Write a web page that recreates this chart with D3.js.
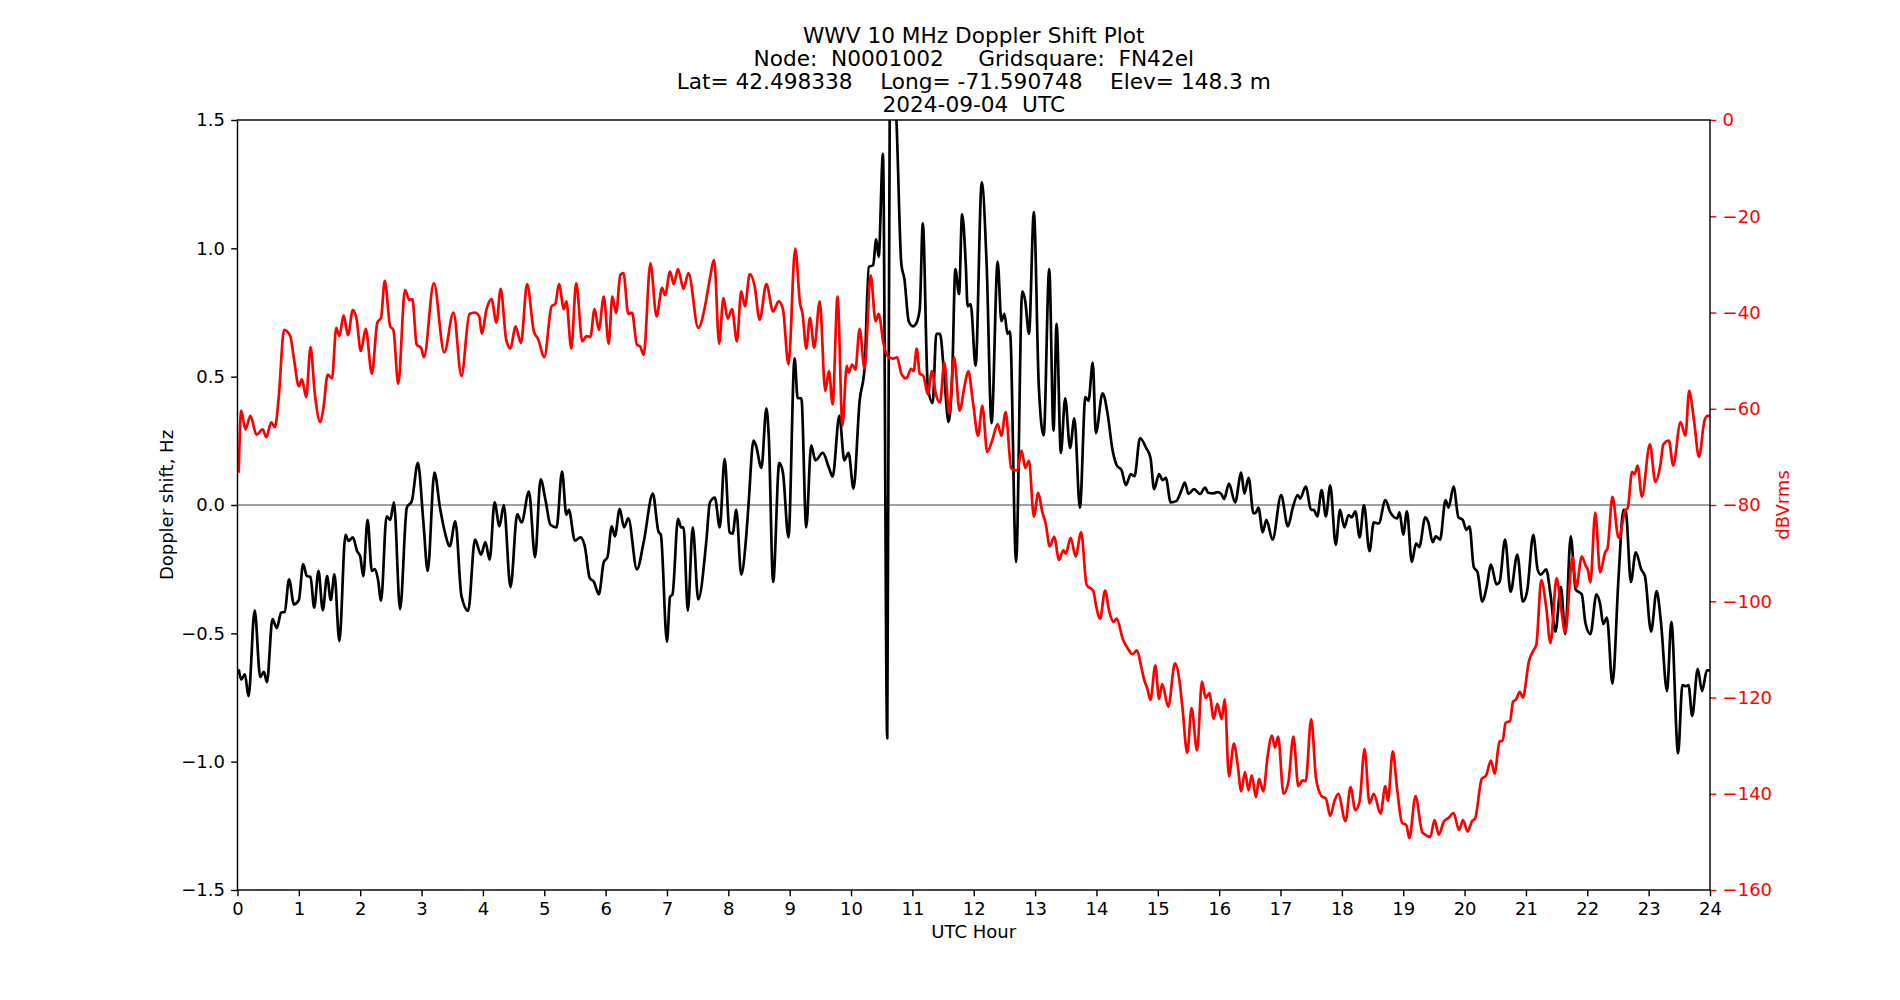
<!DOCTYPE html>
<html><head><meta charset="utf-8">
<script src="https://cdn.jsdelivr.net/npm/d3@7"></script>
<style>
body{margin:0;background:#fff}
text{font-family:"DejaVu Sans",sans-serif}
</style>
</head><body>
<svg id="chart" width="1900" height="1000"></svg>
<script>
// ---------------- data ----------------
const titleLines = [
  "WWV 10 MHz Doppler Shift Plot",
  "Node:  N0001002     Gridsquare:  FN42el",
  "Lat= 42.498338    Long= -71.590748    Elev= 148.3 m",
  "2024-09-04  UTC"
];
const xLabel = "UTC Hour";
const leftLabel = "Doppler shift, Hz";
const rightLabel = "dBVrms";
const hourTicks = d3.range(0, 25);
const dopplerTicks = [-1.5, -1.0, -0.5, 0.0, 0.5, 1.0, 1.5];
const powerTicks = [0, -20, -40, -60, -80, -100, -120, -140, -160];

const dopplerHour = [0.02,0.06,0.12,0.18,0.28,0.37,0.43,0.48,0.57,0.64,0.71,0.77,0.84,0.92,1.00,1.07,1.13,1.19,1.25,1.32,1.39,1.46,1.52,1.58,1.66,1.76,1.81,1.88,1.95,
2.00,2.05,2.12,2.19,2.24,2.29,2.34,2.43,2.49,2.55,2.65,2.76,2.84,2.94,3.03,3.10,3.21,3.30,3.38,3.46,3.55,3.65,3.76,3.87,3.97,
4.04,4.11,4.19,4.27,4.34,4.45,4.56,4.63,4.75,4.85,4.94,5.02,5.10,5.20,5.29,5.36,5.40,5.50,5.59,5.66,5.74,5.81,5.89,5.97,
6.03,6.10,6.15,6.23,6.30,6.37,6.51,6.62,6.77,6.86,6.90,7.00,7.05,7.09,7.18,7.23,7.27,7.34,7.42,7.51,7.64,7.70,7.78,7.86,7.94,
8.02,8.07,8.13,8.21,8.29,8.33,8.41,8.45,8.54,8.62,8.66,8.73,8.83,8.89,8.98,9.08,9.13,9.19,9.27,9.35,9.42,9.54,9.64,9.70,9.81,9.89,9.96,
10.04,10.14,10.22,10.29,10.36,10.41,10.45,10.52,10.59,10.63,10.68,10.74,10.82,10.87,10.94,11.01,11.06,11.12,11.17,11.25,11.33,11.39,11.45,11.51,11.59,11.65,11.70,11.76,11.81,11.87,11.90,11.95,
12.03,12.13,12.21,12.29,12.39,12.45,12.50,12.55,12.59,12.69,12.79,12.84,12.90,12.98,13.06,13.14,13.23,13.30,13.35,13.42,13.49,13.57,13.64,13.73,13.82,13.87,13.94,
13.99,14.10,14.18,14.26,14.33,14.41,14.48,14.56,14.62,14.71,14.81,14.88,14.94,15.02,15.08,15.13,15.21,15.30,15.38,15.44,15.50,15.59,15.69,15.77,15.82,15.91,15.97,
16.03,16.08,16.16,16.26,16.36,16.41,16.48,16.56,16.60,16.64,16.71,16.77,16.87,17.01,17.12,17.20,17.28,17.32,17.41,17.50,17.54,17.60,17.67,17.74,17.81,17.90,17.97,
18.04,18.11,18.16,18.22,18.29,18.36,18.45,18.52,18.60,18.71,18.79,18.90,18.94,19.00,19.06,19.14,19.21,19.26,19.36,19.41,19.48,19.53,19.60,19.69,19.74,19.82,19.90,19.97,
20.03,20.08,20.15,20.21,20.29,20.36,20.43,20.52,20.57,20.66,20.75,20.86,20.95,21.02,21.12,21.19,21.24,21.33,21.40,21.48,21.57,21.64,21.73,21.81,21.91,21.97,
22.05,22.15,22.21,22.26,22.32,22.41,22.51,22.59,22.63,22.71,22.79,22.88,22.94,23.04,23.13,23.20,23.30,23.37,23.48,23.55,23.61,23.65,23.71,23.80,23.87,23.95,24.00];

const dopplerShift = [-0.64,-0.68,-0.66,-0.745,-0.41,-0.67,-0.65,-0.69,-0.445,-0.48,-0.42,-0.416,-0.29,-0.387,-0.37,-0.23,-0.277,-0.28,-0.40,-0.257,-0.41,-0.277,-0.37,-0.27,-0.53,-0.116,-0.14,-0.126,-0.18,
-0.20,-0.277,-0.058,-0.257,-0.25,-0.29,-0.373,-0.044,-0.058,0.01,-0.406,-0.01,0.015,0.164,-0.068,-0.257,0.126,-0.01,-0.106,-0.16,-0.064,-0.354,-0.412,-0.135,-0.193,
-0.145,-0.213,0.01,-0.083,0.0,-0.32,-0.035,-0.068,0.052,-0.203,0.1,0.019,-0.077,-0.087,0.13,-0.039,-0.019,-0.139,-0.126,-0.16,-0.284,-0.3,-0.348,-0.222,
-0.203,-0.083,-0.122,-0.015,-0.087,-0.052,-0.251,-0.145,0.044,-0.103,-0.116,-0.532,-0.358,-0.348,-0.054,-0.087,-0.087,-0.412,-0.087,-0.368,-0.145,0.01,0.029,-0.087,0.18,
-0.106,-0.112,-0.019,-0.271,-0.126,0.004,0.251,0.232,0.145,0.377,0.261,-0.3,0.164,0.126,-0.126,0.571,0.416,0.416,-0.087,0.232,0.174,0.203,0.145,0.11,0.348,0.174,0.203,
0.064,0.406,0.532,0.928,0.934,1.035,0.967,1.368,-0.909,1.5,1.75,1.5,0.938,0.88,0.716,0.696,0.706,0.764,1.097,0.464,0.397,0.667,0.667,0.532,0.323,0.513,0.919,0.822,1.132,0.938,0.774,0.783,
0.542,1.257,0.938,0.319,0.948,0.716,0.745,0.667,0.677,-0.222,0.832,0.793,0.667,1.141,0.464,0.271,0.919,0.29,0.706,0.203,0.416,0.222,0.338,-0.01,0.42,0.406,0.555,
0.28,0.435,0.358,0.217,0.155,0.135,0.077,0.12,0.112,0.261,0.222,0.184,0.062,0.12,0.097,0.106,0.01,0.015,0.054,0.087,0.043,0.062,0.043,0.068,0.048,0.045,0.05,
0.044,0.023,0.083,0.01,0.126,0.044,0.106,-0.033,-0.029,-0.01,-0.106,-0.058,-0.135,0.039,-0.083,-0.01,0.039,0.025,0.072,-0.019,-0.019,-0.044,0.058,-0.044,0.077,-0.155,-0.019,
-0.087,-0.039,-0.048,-0.025,-0.126,0.0,-0.18,-0.068,-0.072,0.019,-0.029,-0.052,-0.029,-0.116,-0.025,-0.222,-0.149,-0.164,-0.048,-0.068,-0.145,-0.122,-0.135,0.019,-0.01,0.072,-0.048,-0.058,
-0.097,-0.083,-0.242,-0.261,-0.377,-0.319,-0.232,-0.309,-0.3,-0.135,-0.338,-0.193,-0.377,-0.335,-0.116,-0.251,-0.271,-0.251,-0.348,-0.493,-0.319,-0.503,-0.122,-0.329,-0.348,-0.46,
-0.503,-0.348,-0.387,-0.464,-0.439,-0.696,-0.28,-0.019,-0.029,-0.3,-0.184,-0.251,-0.277,-0.493,-0.335,-0.455,-0.725,-0.455,-0.967,-0.702,-0.706,-0.702,-0.822,-0.638,-0.725,-0.644,-0.644];

const powerHour = [0.02,0.06,0.13,0.21,0.31,0.41,0.47,0.55,0.61,0.67,0.76,0.86,0.92,1.00,1.05,1.12,1.19,1.26,1.35,1.40,1.47,1.54,1.61,1.66,1.73,1.80,1.88,1.94,
2.01,2.09,2.19,2.28,2.34,2.40,2.49,2.54,2.62,2.73,2.80,2.85,2.92,2.99,3.04,3.20,3.37,3.52,3.65,3.78,3.87,3.94,3.98,
4.06,4.14,4.22,4.29,4.38,4.45,4.53,4.62,4.72,4.83,4.90,5.00,5.12,5.18,5.24,5.32,5.36,5.44,5.52,5.62,5.69,5.75,5.82,5.89,5.97,
6.05,6.11,6.17,6.24,6.29,6.37,6.43,6.51,6.56,6.62,6.73,6.83,6.92,6.97,7.05,7.11,7.18,7.27,7.35,7.51,7.62,7.69,7.77,7.85,7.92,
7.99,8.06,8.14,8.21,8.27,8.35,8.43,8.51,8.62,8.73,8.82,8.89,8.98,9.09,9.17,9.21,9.27,9.33,9.40,9.49,9.58,9.64,9.70,9.78,9.86,9.93,
9.96,10.02,10.07,10.14,10.22,10.32,10.40,10.45,10.53,10.60,10.68,10.75,10.82,10.90,10.98,11.02,11.07,11.12,11.18,11.25,11.32,11.38,11.45,11.52,11.60,11.68,11.77,11.85,11.91,
11.99,12.07,12.14,12.22,12.30,12.39,12.45,12.52,12.61,12.67,12.71,12.78,12.84,12.90,12.98,13.05,13.12,13.17,13.24,13.31,13.39,13.46,13.50,13.58,13.66,13.75,13.84,13.95,
13.99,14.06,14.14,14.21,14.28,14.33,14.43,14.51,14.59,14.66,14.73,14.78,14.83,14.88,14.96,15.02,15.07,15.17,15.28,15.35,15.40,15.48,15.55,15.64,15.72,15.78,15.84,15.91,15.97,
16.04,16.09,16.16,16.24,16.30,16.36,16.42,16.48,16.53,16.60,16.65,16.72,16.79,16.86,16.91,16.96,17.05,17.13,17.21,17.29,17.36,17.41,17.50,17.58,17.67,17.74,17.81,17.88,17.94,
18.06,18.14,18.22,18.29,18.37,18.45,18.52,18.63,18.71,18.75,18.83,18.90,18.98,19.05,19.10,19.20,19.31,19.36,19.44,19.51,19.58,19.66,19.74,19.82,19.91,19.975,
20.05,20.12,20.17,20.28,20.35,20.43,20.49,20.57,20.62,20.67,20.74,20.79,20.84,20.90,20.95,21.05,21.12,21.17,21.25,21.33,21.40,21.50,21.57,21.64,21.76,21.82,21.91,21.97,
22.01,22.05,22.13,22.21,22.29,22.33,22.41,22.51,22.62,22.66,22.73,22.77,22.82,22.89,23.02,23.11,23.19,23.24,23.33,23.40,23.52,23.60,23.66,23.74,23.82,23.91,23.96,24.00];

const powerDb = [-73.3,-60.4,-64.3,-61.5,-65.4,-64.3,-65.9,-62.8,-63.8,-57.9,-43.6,-44.9,-49.6,-55.3,-53.9,-57.6,-47.2,-56.8,-62.8,-59.9,-52.9,-53.7,-43.2,-44.9,-40.6,-44.7,-39.5,-41.3,
-48.0,-43.4,-52.7,-42.1,-41.1,-33.4,-42.9,-43.6,-54.8,-35.3,-37.4,-37.2,-46.7,-47.3,-49.3,-33.9,-48.3,-40.0,-53.2,-40.3,-40.0,-40.8,-44.4,
-39.3,-37.2,-42.1,-35.1,-45.7,-47.5,-42.9,-46.3,-34.1,-43.9,-45.5,-49.3,-38.7,-38.2,-34.1,-39.3,-37.7,-47.5,-33.9,-46.0,-44.9,-45.1,-39.3,-43.6,-36.7,
-46.5,-36.7,-40.1,-32.2,-31.8,-40.3,-40.0,-46.7,-47.0,-48.8,-29.8,-40.8,-34.9,-36.4,-31.5,-34.1,-31.0,-35.1,-31.8,-43.2,-38.7,-33.6,-29.1,-46.5,-37.0,
-41.3,-39.3,-46.0,-35.6,-38.7,-32.0,-34.6,-41.5,-34.1,-39.8,-37.7,-39.3,-50.8,-26.7,-38.2,-40.3,-47.5,-41.1,-47.3,-37.7,-56.3,-52.2,-59.1,-36.7,-63.5,-51.1,
-52.5,-50.8,-51.9,-43.4,-51.7,-32.3,-41.8,-40.3,-46.5,-49.1,-49.6,-49.3,-52.7,-53.7,-51.7,-52.2,-47.5,-52.7,-53.2,-57.0,-52.2,-56.8,-58.7,-50.4,-61.0,-49.3,-60.4,-55.3,-52.2,
-58.9,-65.6,-59.4,-69.0,-66.6,-63.2,-65.6,-60.7,-72.3,-72.8,-72.8,-68.7,-72.3,-70.8,-82.4,-77.5,-81.6,-83.7,-88.6,-86.6,-91.4,-89.4,-90.1,-86.8,-90.7,-85.7,-96.6,-97.9,
-100.7,-103.6,-97.8,-102.2,-104.3,-103.6,-107.9,-109.8,-111.0,-110.2,-113.6,-116.4,-118.2,-120.5,-113.3,-120.3,-117.2,-121.9,-112.9,-116.2,-121.9,-131.5,-122.2,-131.0,-116.7,-120.1,-119.1,-124.4,-121.3,
-124.5,-120.4,-136.4,-129.6,-133.8,-139.5,-135.5,-139.3,-136.2,-140.7,-136.9,-139.5,-132.2,-127.9,-130.4,-128.1,-140.0,-137.4,-128.1,-138.4,-137.2,-137.4,-124.5,-136.9,-140.5,-141.0,-144.6,-141.5,-140.0,
-145.7,-138.6,-143.4,-141.5,-130.7,-142.0,-140.0,-144.1,-138.4,-141.5,-131.2,-139.0,-146.0,-146.5,-149.2,-140.5,-148.0,-148.5,-149.0,-145.5,-148.5,-145.8,-145.0,-144.0,-147.5,-145.5,
-147.9,-145.7,-145.2,-136.9,-136.2,-133.1,-135.8,-129.1,-129.0,-125.2,-124.9,-120.9,-120.4,-118.8,-120.0,-112.4,-110.3,-109.0,-95.6,-101.2,-108.7,-95.2,-101.2,-106.4,-90.9,-97.1,-90.7,-92.5,
-93.5,-96.1,-81.6,-94.0,-89.9,-89.0,-78.3,-86.8,-81.1,-80.6,-73.1,-73.6,-71.8,-78.3,-67.4,-75.2,-71.8,-67.4,-66.6,-71.8,-62.8,-65.6,-56.3,-62.5,-70.0,-62.5,-61.5,-61.5];

// ---------------- layout ----------------
const W = 1900, H = 1000;
const M = {left: 237.5, right: 1710, top: 120, bottom: 890};
const FS = 18, TITLE_FS = 21.67, TICK = 6.3, PAD = 6.3;

const svg = d3.select("#chart");
svg.append("rect").attr("width", W).attr("height", H).attr("fill", "#fff");

const x = d3.scaleLinear().domain([0, 24]).range([M.left, M.right]);
const yL = d3.scaleLinear().domain([-1.5, 1.5]).range([M.bottom, M.top]);
const yR = d3.scaleLinear().domain([-160, 0]).range([M.bottom, M.top]);

svg.append("defs").append("clipPath").attr("id", "plotclip")
  .append("rect").attr("x", M.left).attr("y", M.top)
  .attr("width", M.right - M.left).attr("height", M.bottom - M.top);

// zero line
svg.append("line")
  .attr("x1", M.left).attr("x2", M.right)
  .attr("y1", yL(0)).attr("y2", yL(0))
  .attr("stroke", "#808080").attr("stroke-width", 1.4);

const dopplerData = dopplerHour.map((h, i) => [h, dopplerShift[i]]);
const powerData = powerHour.map((h, i) => [h, powerDb[i]]);

const lineL = d3.line().x(d => x(d[0])).y(d => yL(d[1])).curve(d3.curveMonotoneX);
const lineR = d3.line().x(d => x(d[0])).y(d => yR(d[1])).curve(d3.curveMonotoneX);

const g = svg.append("g").attr("clip-path", "url(#plotclip)");
g.append("path").datum(dopplerData).attr("d", lineL)
  .attr("fill", "none").attr("stroke", "#000").attr("stroke-width", 2.7)
  .attr("stroke-linejoin", "round");
g.append("path").datum(powerData).attr("d", lineR)
  .attr("fill", "none").attr("stroke", "#ff0000").attr("stroke-width", 2.7)
  .attr("stroke-linejoin", "round");

// axes
function styleAxis(sel, color) {
  sel.select(".domain").remove();
  sel.selectAll(".tick line").attr("stroke", color).attr("stroke-width", 1.44);
  sel.selectAll(".tick text").attr("fill", color)
    .style("font-size", FS + "px").style("font-family", "'DejaVu Sans', sans-serif");
}
const fmt1 = d3.format(".1f");
const fmt0 = d3.format("d");

const ax = svg.append("g").attr("transform", `translate(0,${M.bottom})`)
  .call(d3.axisBottom(x).tickValues(hourTicks).tickFormat(fmt0).tickSize(TICK).tickPadding(PAD));
styleAxis(ax, "#000");

const al = svg.append("g").attr("transform", `translate(${M.left},0)`)
  .call(d3.axisLeft(yL).tickValues(dopplerTicks).tickFormat(fmt1).tickSize(TICK).tickPadding(PAD));
styleAxis(al, "#000");

const ar = svg.append("g").attr("transform", `translate(${M.right},0)`)
  .call(d3.axisRight(yR).tickValues(powerTicks).tickFormat(fmt0).tickSize(TICK).tickPadding(PAD));
styleAxis(ar, "#ff0000");

// frame
svg.append("rect").attr("x", M.left).attr("y", M.top)
  .attr("width", M.right - M.left).attr("height", M.bottom - M.top)
  .attr("fill", "none").attr("stroke", "#000").attr("stroke-width", 1.44);

// labels
svg.append("text").attr("x", (M.left + M.right) / 2).attr("y", 938)
  .attr("text-anchor", "middle").style("font-size", FS + "px").text(xLabel);
svg.append("text").attr("transform", `translate(173,${(M.top + M.bottom) / 2}) rotate(-90)`)
  .attr("text-anchor", "middle").style("font-size", FS + "px").text(leftLabel);
svg.append("text").attr("transform", `translate(1789,${(M.top + M.bottom) / 2}) rotate(-90)`)
  .attr("text-anchor", "middle").attr("fill", "#ff0000").style("font-size", FS + "px").text(rightLabel);

// title
const tbase = [43, 65.5, 88.5, 112];
const tt = svg.append("text").attr("text-anchor", "middle").style("font-size", TITLE_FS + "px");
titleLines.forEach((t, i) => {
  tt.append("tspan").attr("x", (M.left + M.right) / 2).attr("y", tbase[i])
    .attr("xml:space", "preserve").style("white-space", "pre").text(t);
});
</script>
</body></html>
